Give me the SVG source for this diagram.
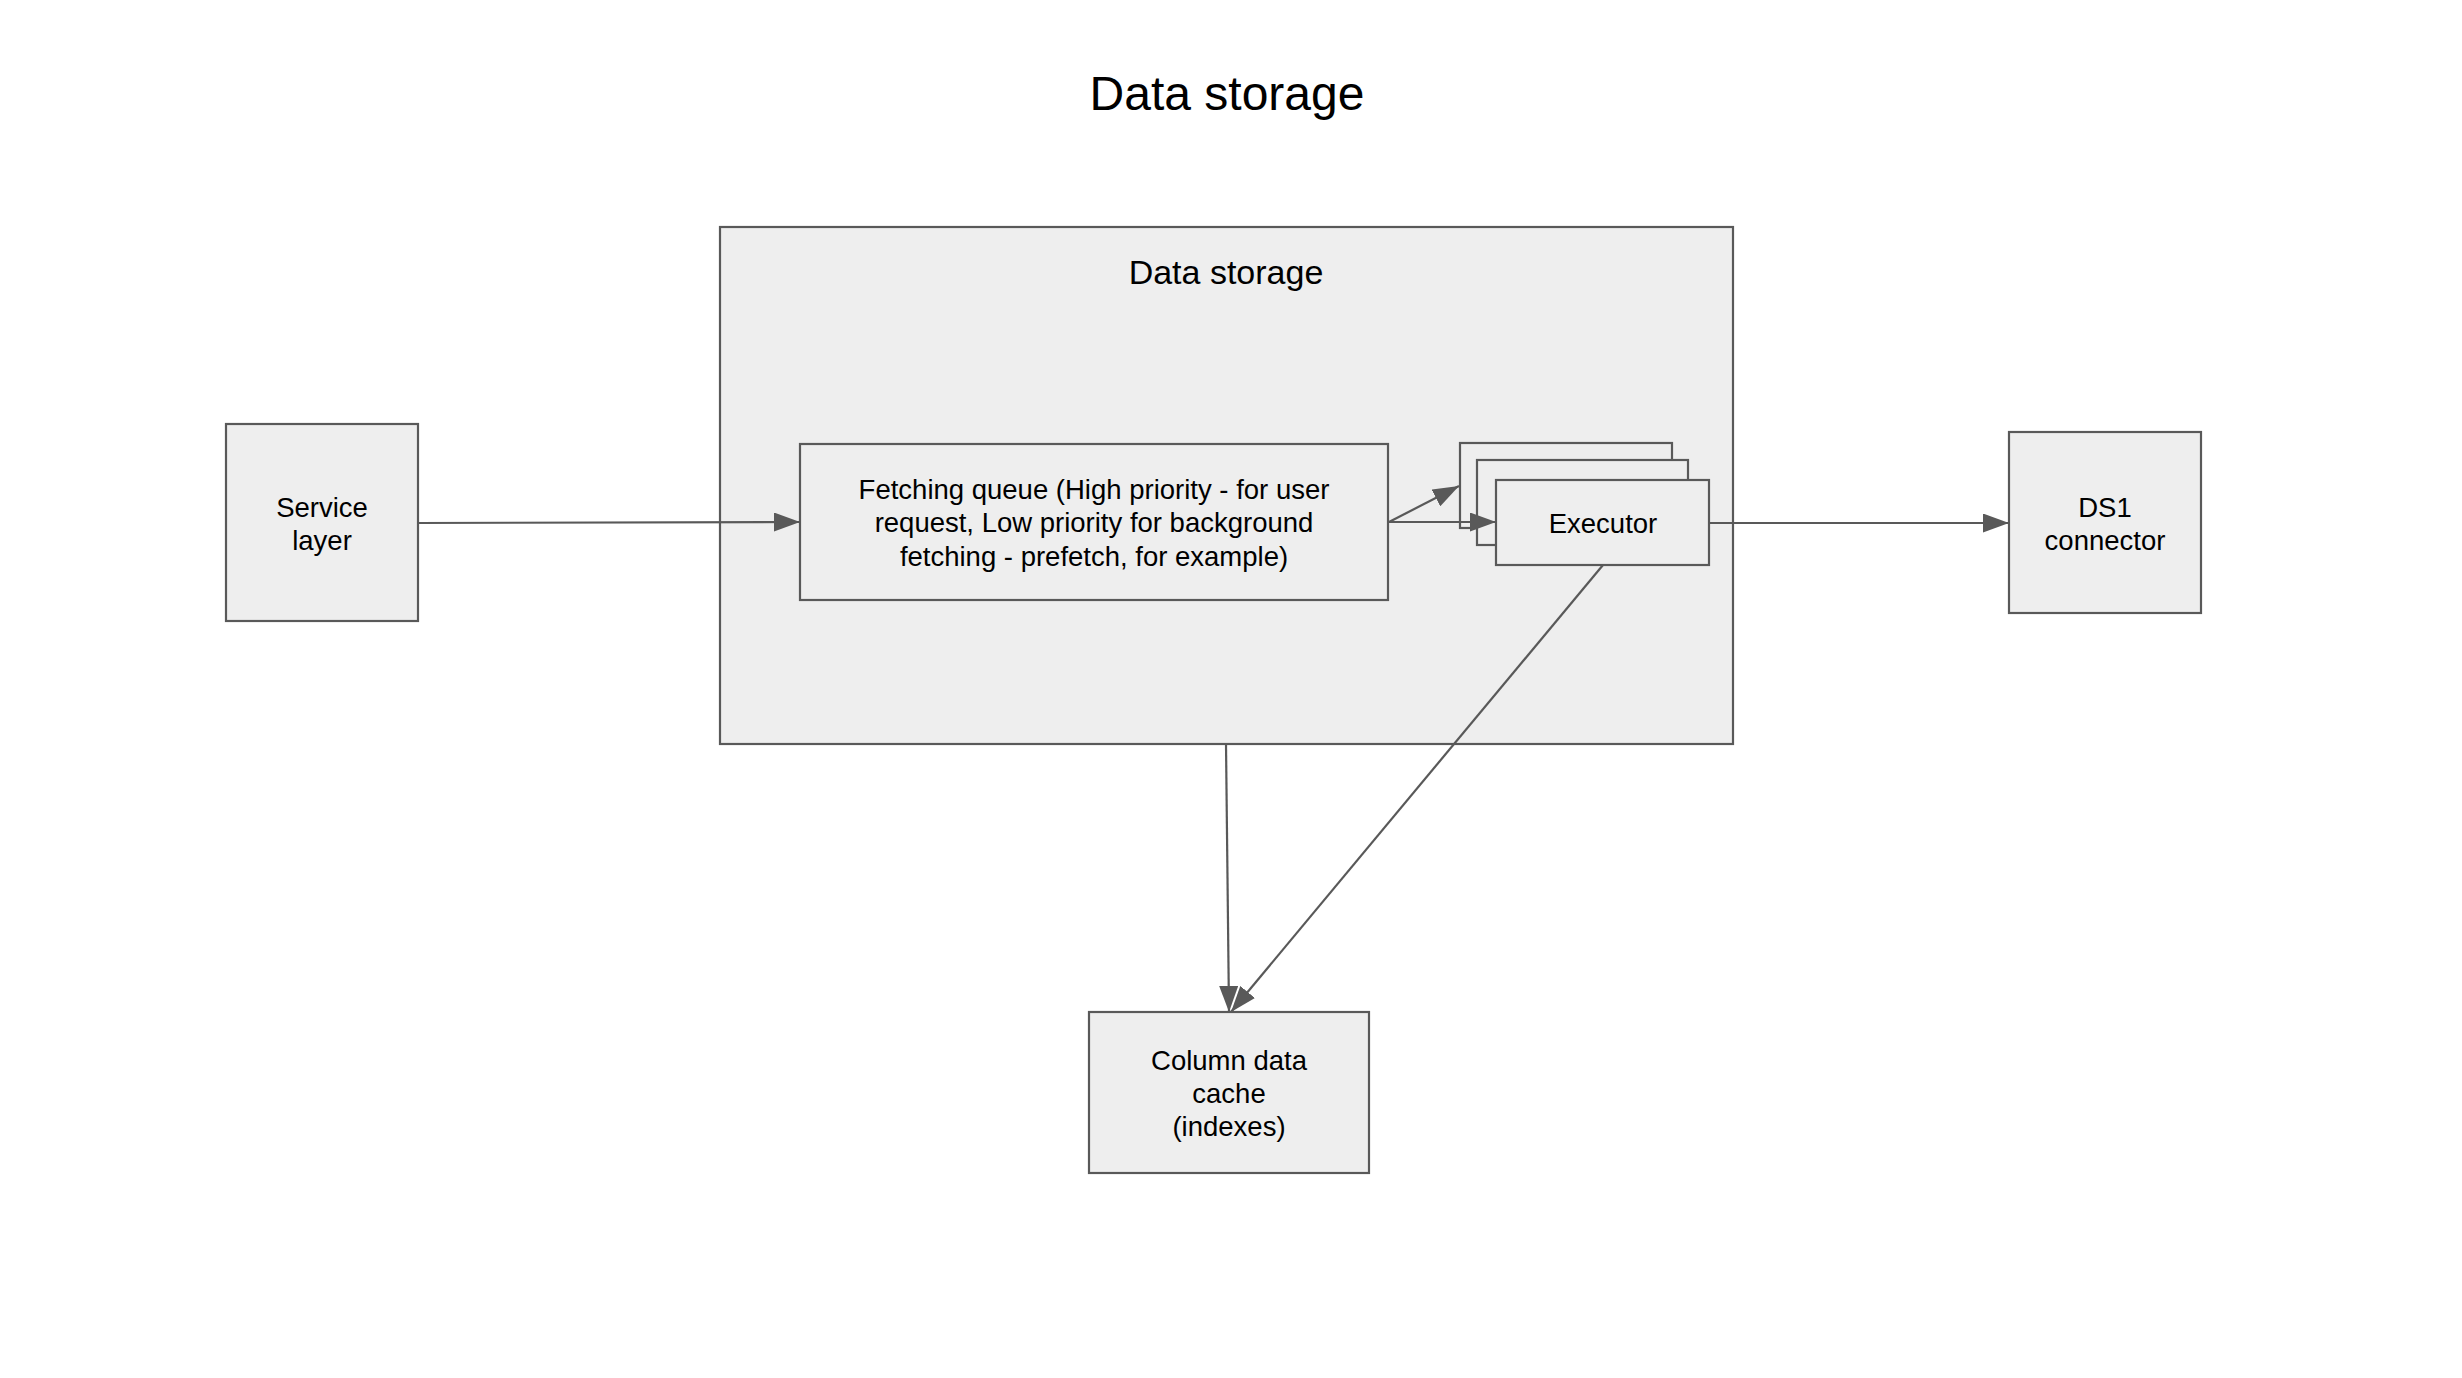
<svg xmlns="http://www.w3.org/2000/svg" width="2462" height="1378" viewBox="0 0 2462 1378">
<style>
.box{fill:#eeeeee;stroke:#595959;stroke-width:2.2}
.t{font-family:"Liberation Sans",Arial,sans-serif;fill:#000;text-anchor:middle}
.n{font-size:27.5px}
.edge{fill:none;stroke:#595959;stroke-width:2.2}
</style>
<defs>
<marker id="ah" markerUnits="userSpaceOnUse" markerWidth="27" markerHeight="19" refX="26" refY="9.5" orient="auto" viewBox="0 0 27 19">
<path d="M0,0 L26,9.5 L0,19 z" fill="#595959"/>
</marker>
</defs>
<rect width="2462" height="1378" fill="#ffffff"/>
<text class="t" x="1227" y="110" font-size="48">Data storage</text>
<g id="data-storage">
<rect class="box" x="720" y="227" width="1013" height="517"/>
<text class="t" x="1226" y="284" font-size="34">Data storage</text>
</g>
<g id="service-layer">
<rect class="box" x="226" y="424" width="192" height="197"/>
<text class="t n" x="322" y="517">Service</text>
<text class="t n" x="322" y="550">layer</text>
</g>
<g id="fetching-queue">
<rect class="box" x="800" y="444" width="588" height="156"/>
<text class="t n" x="1094" y="498.5">Fetching queue (High priority - for user</text>
<text class="t n" x="1094" y="532">request, Low priority for background</text>
<text class="t n" x="1094" y="565.5">fetching - prefetch, for example)</text>
</g>
<g id="executor">
<rect class="box" x="1460" y="443" width="212" height="85"/>
<rect class="box" x="1477" y="460" width="211" height="85"/>
<rect class="box" x="1496" y="480" width="213" height="85"/>
<text class="t n" x="1603" y="533">Executor</text>
</g>
<g id="ds1-connector">
<rect class="box" x="2009" y="432" width="192" height="181"/>
<text class="t n" x="2105" y="517">DS1</text>
<text class="t n" x="2105" y="550">connector</text>
</g>
<g id="column-cache">
<rect class="box" x="1089" y="1012" width="280" height="161"/>
<text class="t n" x="1229" y="1070">Column data</text>
<text class="t n" x="1229" y="1103">cache</text>
<text class="t n" x="1229" y="1136">(indexes)</text>
</g>
<g id="connectors">
<line class="edge" x1="418" y1="523" x2="800" y2="522" marker-end="url(#ah)"/>
<line class="edge" x1="1389" y1="522" x2="1459" y2="486" marker-end="url(#ah)"/>
<line class="edge" x1="1389" y1="522" x2="1496" y2="522" marker-end="url(#ah)"/>
<line class="edge" x1="1709" y1="523" x2="2009" y2="523" marker-end="url(#ah)"/>
<line class="edge" x1="1226" y1="744" x2="1229" y2="1012" marker-end="url(#ah)"/>
<line class="edge" x1="1603" y1="565" x2="1231" y2="1012" marker-end="url(#ah)"/>
</g>
</svg>
